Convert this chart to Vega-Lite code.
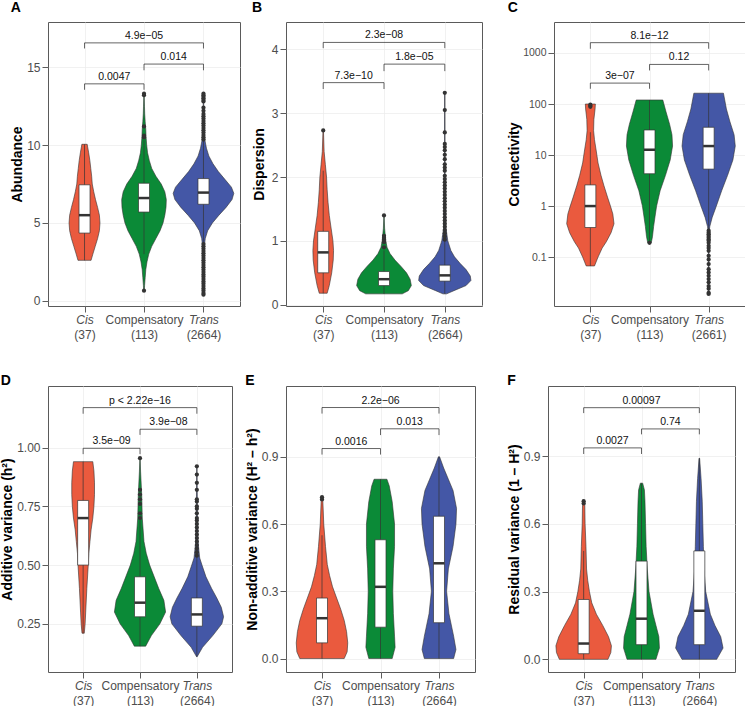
{
"$schema": "https://vega.github.io/schema/vega-lite/v6.json",
"padding": {"left": 0, "top": 0, "right": 0, "bottom": 0},
"background": "white",
"datasets": {
"vio": [
{"p":"A","g":1,"v":2.6,"w":0.11},{"p":"A","g":1,"v":3.0,"w":0.14},{"p":"A","g":1,"v":3.5,"w":0.18},{"p":"A","g":1,"v":4.0,"w":0.22},{"p":"A","g":1,"v":4.5,"w":0.25},{"p":"A","g":1,"v":5.0,"w":0.26},{"p":"A","g":1,"v":5.5,"w":0.25},{"p":"A","g":1,"v":6.0,"w":0.22},{"p":"A","g":1,"v":6.5,"w":0.185},{"p":"A","g":1,"v":7.0,"w":0.155},{"p":"A","g":1,"v":7.5,"w":0.13},{"p":"A","g":1,"v":8.0,"w":0.12},{"p":"A","g":1,"v":8.5,"w":0.105},{"p":"A","g":1,"v":9.0,"w":0.09},{"p":"A","g":1,"v":9.5,"w":0.07},{"p":"A","g":1,"v":10.05,"w":0.045},
{"p":"A","g":2,"v":0.6,"w":0.005},{"p":"A","g":2,"v":1.0,"w":0.01},{"p":"A","g":2,"v":1.5,"w":0.02},{"p":"A","g":2,"v":2.0,"w":0.03},{"p":"A","g":2,"v":2.5,"w":0.05},{"p":"A","g":2,"v":3.0,"w":0.08},{"p":"A","g":2,"v":3.5,"w":0.13},{"p":"A","g":2,"v":4.0,"w":0.2},{"p":"A","g":2,"v":4.5,"w":0.27},{"p":"A","g":2,"v":5.0,"w":0.32},{"p":"A","g":2,"v":5.5,"w":0.35},{"p":"A","g":2,"v":6.0,"w":0.37},{"p":"A","g":2,"v":6.5,"w":0.375},{"p":"A","g":2,"v":7.0,"w":0.35},{"p":"A","g":2,"v":7.5,"w":0.29},{"p":"A","g":2,"v":8.0,"w":0.2},{"p":"A","g":2,"v":8.5,"w":0.13},{"p":"A","g":2,"v":9.0,"w":0.09},{"p":"A","g":2,"v":9.5,"w":0.06},{"p":"A","g":2,"v":10.0,"w":0.045},{"p":"A","g":2,"v":10.5,"w":0.035},{"p":"A","g":2,"v":11.0,"w":0.03},{"p":"A","g":2,"v":11.5,"w":0.02},{"p":"A","g":2,"v":12.0,"w":0.012},{"p":"A","g":2,"v":12.5,"w":0.008},{"p":"A","g":2,"v":13.3,"w":0.003},
{"p":"A","g":3,"v":0.4,"w":0.003},{"p":"A","g":3,"v":2.0,"w":0.006},{"p":"A","g":3,"v":3.0,"w":0.01},{"p":"A","g":3,"v":3.5,"w":0.015},{"p":"A","g":3,"v":4.0,"w":0.03},{"p":"A","g":3,"v":4.5,"w":0.07},{"p":"A","g":3,"v":5.0,"w":0.15},{"p":"A","g":3,"v":5.5,"w":0.26},{"p":"A","g":3,"v":6.0,"w":0.38},{"p":"A","g":3,"v":6.5,"w":0.48},{"p":"A","g":3,"v":6.9,"w":0.51},{"p":"A","g":3,"v":7.3,"w":0.47},{"p":"A","g":3,"v":7.8,"w":0.36},{"p":"A","g":3,"v":8.3,"w":0.25},{"p":"A","g":3,"v":8.8,"w":0.16},{"p":"A","g":3,"v":9.3,"w":0.09},{"p":"A","g":3,"v":9.8,"w":0.05},{"p":"A","g":3,"v":10.3,"w":0.025},{"p":"A","g":3,"v":11.0,"w":0.01},{"p":"A","g":3,"v":12.0,"w":0.005},{"p":"A","g":3,"v":13.3,"w":0.003},
{"p":"B","g":1,"v":0.18,"w":0.065},{"p":"B","g":1,"v":0.3,"w":0.1},{"p":"B","g":1,"v":0.5,"w":0.14},{"p":"B","g":1,"v":0.7,"w":0.165},{"p":"B","g":1,"v":0.85,"w":0.17},{"p":"B","g":1,"v":1.0,"w":0.16},{"p":"B","g":1,"v":1.2,"w":0.13},{"p":"B","g":1,"v":1.4,"w":0.1},{"p":"B","g":1,"v":1.6,"w":0.08},{"p":"B","g":1,"v":1.8,"w":0.065},{"p":"B","g":1,"v":2.0,"w":0.055},{"p":"B","g":1,"v":2.2,"w":0.035},{"p":"B","g":1,"v":2.4,"w":0.015},{"p":"B","g":1,"v":2.73,"w":0.004},
{"p":"B","g":2,"v":0.17,"w":0.3},{"p":"B","g":2,"v":0.22,"w":0.4},{"p":"B","g":2,"v":0.3,"w":0.45},{"p":"B","g":2,"v":0.4,"w":0.43},{"p":"B","g":2,"v":0.5,"w":0.37},{"p":"B","g":2,"v":0.6,"w":0.28},{"p":"B","g":2,"v":0.7,"w":0.18},{"p":"B","g":2,"v":0.8,"w":0.1},{"p":"B","g":2,"v":0.9,"w":0.05},{"p":"B","g":2,"v":1.0,"w":0.03},{"p":"B","g":2,"v":1.1,"w":0.02},{"p":"B","g":2,"v":1.2,"w":0.01},{"p":"B","g":2,"v":1.4,"w":0.003},
{"p":"B","g":3,"v":0.17,"w":0.03},{"p":"B","g":3,"v":0.22,"w":0.15},{"p":"B","g":3,"v":0.3,"w":0.35},{"p":"B","g":3,"v":0.38,"w":0.43},{"p":"B","g":3,"v":0.45,"w":0.42},{"p":"B","g":3,"v":0.55,"w":0.35},{"p":"B","g":3,"v":0.65,"w":0.25},{"p":"B","g":3,"v":0.75,"w":0.16},{"p":"B","g":3,"v":0.85,"w":0.1},{"p":"B","g":3,"v":1.0,"w":0.05},{"p":"B","g":3,"v":1.2,"w":0.02},{"p":"B","g":3,"v":1.5,"w":0.01},{"p":"B","g":3,"v":2.0,"w":0.005},{"p":"B","g":3,"v":3.32,"w":0.003},
{"p":"C","g":1,"v":0.067,"w":0.07},{"p":"C","g":1,"v":0.1,"w":0.13},{"p":"C","g":1,"v":0.15,"w":0.2},{"p":"C","g":1,"v":0.2,"w":0.27},{"p":"C","g":1,"v":0.3,"w":0.35},{"p":"C","g":1,"v":0.45,"w":0.4},{"p":"C","g":1,"v":0.7,"w":0.38},{"p":"C","g":1,"v":1.0,"w":0.34},{"p":"C","g":1,"v":1.5,"w":0.29},{"p":"C","g":1,"v":2.5,"w":0.23},{"p":"C","g":1,"v":4,"w":0.18},{"p":"C","g":1,"v":7,"w":0.13},{"p":"C","g":1,"v":12,"w":0.1},{"p":"C","g":1,"v":20,"w":0.07},{"p":"C","g":1,"v":30,"w":0.055},{"p":"C","g":1,"v":50,"w":0.06},{"p":"C","g":1,"v":80,"w":0.08},{"p":"C","g":1,"v":100,"w":0.085},
{"p":"C","g":2,"v":0.19,"w":0.03},{"p":"C","g":2,"v":0.25,"w":0.05},{"p":"C","g":2,"v":0.4,"w":0.07},{"p":"C","g":2,"v":0.7,"w":0.1},{"p":"C","g":2,"v":1.0,"w":0.12},{"p":"C","g":2,"v":2,"w":0.18},{"p":"C","g":2,"v":4,"w":0.27},{"p":"C","g":2,"v":8,"w":0.35},{"p":"C","g":2,"v":15,"w":0.39},{"p":"C","g":2,"v":25,"w":0.38},{"p":"C","g":2,"v":40,"w":0.34},{"p":"C","g":2,"v":70,"w":0.28},{"p":"C","g":2,"v":120,"w":0.225},
{"p":"C","g":3,"v":0.02,"w":0.003},{"p":"C","g":3,"v":0.3,"w":0.005},{"p":"C","g":3,"v":0.4,"w":0.02},{"p":"C","g":3,"v":0.6,"w":0.06},{"p":"C","g":3,"v":1.0,"w":0.13},{"p":"C","g":3,"v":2,"w":0.22},{"p":"C","g":3,"v":4,"w":0.32},{"p":"C","g":3,"v":8,"w":0.41},{"p":"C","g":3,"v":15,"w":0.45},{"p":"C","g":3,"v":25,"w":0.43},{"p":"C","g":3,"v":45,"w":0.36},{"p":"C","g":3,"v":80,"w":0.3},{"p":"C","g":3,"v":163,"w":0.25},
{"p":"D","g":1,"v":0.21,"w":0.02},{"p":"D","g":1,"v":0.25,"w":0.035},{"p":"D","g":1,"v":0.3,"w":0.045},{"p":"D","g":1,"v":0.4,"w":0.065},{"p":"D","g":1,"v":0.5,"w":0.09},{"p":"D","g":1,"v":0.55,"w":0.1},{"p":"D","g":1,"v":0.6,"w":0.12},{"p":"D","g":1,"v":0.65,"w":0.14},{"p":"D","g":1,"v":0.7,"w":0.17},{"p":"D","g":1,"v":0.75,"w":0.19},{"p":"D","g":1,"v":0.8,"w":0.2},{"p":"D","g":1,"v":0.85,"w":0.2},{"p":"D","g":1,"v":0.9,"w":0.19},{"p":"D","g":1,"v":0.94,"w":0.17},
{"p":"D","g":2,"v":0.155,"w":0.1},{"p":"D","g":2,"v":0.2,"w":0.2},{"p":"D","g":2,"v":0.25,"w":0.35},{"p":"D","g":2,"v":0.3,"w":0.45},{"p":"D","g":2,"v":0.35,"w":0.42},{"p":"D","g":2,"v":0.4,"w":0.33},{"p":"D","g":2,"v":0.45,"w":0.25},{"p":"D","g":2,"v":0.5,"w":0.17},{"p":"D","g":2,"v":0.55,"w":0.11},{"p":"D","g":2,"v":0.6,"w":0.07},{"p":"D","g":2,"v":0.7,"w":0.04},{"p":"D","g":2,"v":0.8,"w":0.03},{"p":"D","g":2,"v":0.9,"w":0.01},{"p":"D","g":2,"v":0.955,"w":0.003},
{"p":"D","g":3,"v":0.11,"w":0.005},{"p":"D","g":3,"v":0.15,"w":0.1},{"p":"D","g":3,"v":0.2,"w":0.28},{"p":"D","g":3,"v":0.25,"w":0.44},{"p":"D","g":3,"v":0.28,"w":0.47},{"p":"D","g":3,"v":0.32,"w":0.43},{"p":"D","g":3,"v":0.36,"w":0.35},{"p":"D","g":3,"v":0.4,"w":0.26},{"p":"D","g":3,"v":0.45,"w":0.16},{"p":"D","g":3,"v":0.5,"w":0.09},{"p":"D","g":3,"v":0.53,"w":0.05},{"p":"D","g":3,"v":0.6,"w":0.02},{"p":"D","g":3,"v":0.7,"w":0.01},{"p":"D","g":3,"v":0.92,"w":0.003},
{"p":"E","g":1,"v":0,"w":0.38},{"p":"E","g":1,"v":0.03,"w":0.43},{"p":"E","g":1,"v":0.07,"w":0.44},{"p":"E","g":1,"v":0.12,"w":0.42},{"p":"E","g":1,"v":0.17,"w":0.38},{"p":"E","g":1,"v":0.22,"w":0.32},{"p":"E","g":1,"v":0.27,"w":0.25},{"p":"E","g":1,"v":0.32,"w":0.18},{"p":"E","g":1,"v":0.37,"w":0.13},{"p":"E","g":1,"v":0.42,"w":0.09},{"p":"E","g":1,"v":0.5,"w":0.06},{"p":"E","g":1,"v":0.6,"w":0.03},{"p":"E","g":1,"v":0.7,"w":0.015},{"p":"E","g":1,"v":0.72,"w":0.01},
{"p":"E","g":2,"v":0,"w":0.2},{"p":"E","g":2,"v":0.05,"w":0.25},{"p":"E","g":2,"v":0.1,"w":0.24},{"p":"E","g":2,"v":0.2,"w":0.22},{"p":"E","g":2,"v":0.3,"w":0.21},{"p":"E","g":2,"v":0.4,"w":0.22},{"p":"E","g":2,"v":0.5,"w":0.24},{"p":"E","g":2,"v":0.6,"w":0.24},{"p":"E","g":2,"v":0.7,"w":0.2},{"p":"E","g":2,"v":0.77,"w":0.15},{"p":"E","g":2,"v":0.8,"w":0.11},
{"p":"E","g":3,"v":0,"w":0.25},{"p":"E","g":3,"v":0.04,"w":0.29},{"p":"E","g":3,"v":0.1,"w":0.25},{"p":"E","g":3,"v":0.2,"w":0.17},{"p":"E","g":3,"v":0.3,"w":0.13},{"p":"E","g":3,"v":0.4,"w":0.16},{"p":"E","g":3,"v":0.5,"w":0.24},{"p":"E","g":3,"v":0.6,"w":0.29},{"p":"E","g":3,"v":0.67,"w":0.3},{"p":"E","g":3,"v":0.75,"w":0.24},{"p":"E","g":3,"v":0.8,"w":0.16},{"p":"E","g":3,"v":0.85,"w":0.08},{"p":"E","g":3,"v":0.9,"w":0.01},
{"p":"F","g":1,"v":0,"w":0.42},{"p":"F","g":1,"v":0.03,"w":0.47},{"p":"F","g":1,"v":0.06,"w":0.48},{"p":"F","g":1,"v":0.1,"w":0.43},{"p":"F","g":1,"v":0.15,"w":0.33},{"p":"F","g":1,"v":0.2,"w":0.22},{"p":"F","g":1,"v":0.25,"w":0.14},{"p":"F","g":1,"v":0.3,"w":0.1},{"p":"F","g":1,"v":0.35,"w":0.07},{"p":"F","g":1,"v":0.4,"w":0.05},{"p":"F","g":1,"v":0.5,"w":0.04},{"p":"F","g":1,"v":0.6,"w":0.025},{"p":"F","g":1,"v":0.68,"w":0.02},{"p":"F","g":1,"v":0.7,"w":0.01},
{"p":"F","g":2,"v":0,"w":0.25},{"p":"F","g":2,"v":0.05,"w":0.31},{"p":"F","g":2,"v":0.1,"w":0.3},{"p":"F","g":2,"v":0.15,"w":0.25},{"p":"F","g":2,"v":0.2,"w":0.2},{"p":"F","g":2,"v":0.3,"w":0.13},{"p":"F","g":2,"v":0.4,"w":0.1},{"p":"F","g":2,"v":0.5,"w":0.08},{"p":"F","g":2,"v":0.6,"w":0.07},{"p":"F","g":2,"v":0.7,"w":0.06},{"p":"F","g":2,"v":0.75,"w":0.05},{"p":"F","g":2,"v":0.78,"w":0.02},
{"p":"F","g":3,"v":0,"w":0.3},{"p":"F","g":3,"v":0.05,"w":0.41},{"p":"F","g":3,"v":0.1,"w":0.37},{"p":"F","g":3,"v":0.15,"w":0.27},{"p":"F","g":3,"v":0.2,"w":0.19},{"p":"F","g":3,"v":0.3,"w":0.11},{"p":"F","g":3,"v":0.4,"w":0.08},{"p":"F","g":3,"v":0.5,"w":0.07},{"p":"F","g":3,"v":0.6,"w":0.06},{"p":"F","g":3,"v":0.7,"w":0.05},{"p":"F","g":3,"v":0.8,"w":0.03},{"p":"F","g":3,"v":0.89,"w":0.005}
],
"box": [
{"p":"A","g":1,"lo":2.6,"q1":4.35,"med":5.5,"q3":7.45,"hi":10.05},{"p":"A","g":2,"lo":3.0,"q1":5.7,"med":6.6,"q3":7.55,"hi":10.3},{"p":"A","g":3,"lo":3.7,"q1":6.2,"med":6.95,"q3":7.85,"hi":10.3},
{"p":"B","g":1,"lo":0.18,"q1":0.5,"med":0.82,"q3":1.15,"hi":2.1},{"p":"B","g":2,"lo":0.17,"q1":0.3,"med":0.4,"q3":0.52,"hi":0.85},{"p":"B","g":3,"lo":0.17,"q1":0.37,"med":0.46,"q3":0.62,"hi":1.0},
{"p":"C","g":1,"lo":0.067,"q1":0.38,"med":1.0,"q3":2.6,"hi":28},{"p":"C","g":2,"lo":0.19,"q1":4.3,"med":12.7,"q3":31,"hi":120},{"p":"C","g":3,"lo":0.35,"q1":5.3,"med":15,"q3":35,"hi":163},
{"p":"D","g":1,"lo":0.21,"q1":0.5,"med":0.7,"q3":0.775,"hi":0.94},{"p":"D","g":2,"lo":0.155,"q1":0.28,"med":0.34,"q3":0.45,"hi":0.69},{"p":"D","g":3,"lo":0.11,"q1":0.24,"med":0.29,"q3":0.36,"hi":0.54},
{"p":"E","g":1,"lo":0,"q1":0.07,"med":0.18,"q3":0.27,"hi":0.55},{"p":"E","g":2,"lo":0,"q1":0.14,"med":0.32,"q3":0.53,"hi":0.8},{"p":"E","g":3,"lo":0,"q1":0.16,"med":0.425,"q3":0.635,"hi":0.9},
{"p":"F","g":1,"lo":0,"q1":0.025,"med":0.07,"q3":0.265,"hi":0.48},{"p":"F","g":2,"lo":0,"q1":0.065,"med":0.18,"q3":0.435,"hi":0.78},{"p":"F","g":3,"lo":0,"q1":0.065,"med":0.215,"q3":0.48,"hi":0.89}
],
"out": [
{"p":"A","g":2,"v":0.65},{"p":"A","g":2,"v":10.5},{"p":"A","g":2,"v":10.6},{"p":"A","g":2,"v":11.2},{"p":"A","g":2,"v":13.2},{"p":"A","g":2,"v":13.3},
{"p":"A","g":3,"v":0.4},{"p":"A","g":3,"v":0.5},{"p":"A","g":3,"v":0.65},{"p":"A","g":3,"v":0.8},{"p":"A","g":3,"v":0.95},{"p":"A","g":3,"v":1.1},{"p":"A","g":3,"v":1.25},{"p":"A","g":3,"v":1.4},{"p":"A","g":3,"v":1.55},{"p":"A","g":3,"v":1.7},{"p":"A","g":3,"v":1.85},{"p":"A","g":3,"v":2.0},{"p":"A","g":3,"v":2.15},{"p":"A","g":3,"v":2.3},{"p":"A","g":3,"v":2.45},{"p":"A","g":3,"v":2.6},{"p":"A","g":3,"v":2.75},{"p":"A","g":3,"v":2.9},{"p":"A","g":3,"v":3.05},{"p":"A","g":3,"v":3.2},{"p":"A","g":3,"v":3.35},{"p":"A","g":3,"v":3.5},{"p":"A","g":3,"v":3.65},
{"p":"A","g":3,"v":10.35},{"p":"A","g":3,"v":10.5},{"p":"A","g":3,"v":10.65},{"p":"A","g":3,"v":10.8},{"p":"A","g":3,"v":10.95},{"p":"A","g":3,"v":11.1},{"p":"A","g":3,"v":11.25},{"p":"A","g":3,"v":11.4},{"p":"A","g":3,"v":11.55},{"p":"A","g":3,"v":11.7},{"p":"A","g":3,"v":11.85},{"p":"A","g":3,"v":12.0},{"p":"A","g":3,"v":12.2},{"p":"A","g":3,"v":12.4},{"p":"A","g":3,"v":12.8},{"p":"A","g":3,"v":12.9},{"p":"A","g":3,"v":13.0},{"p":"A","g":3,"v":13.1},{"p":"A","g":3,"v":13.2},{"p":"A","g":3,"v":13.3},
{"p":"B","g":1,"v":2.73},
{"p":"B","g":2,"v":0.9},{"p":"B","g":2,"v":0.98},{"p":"B","g":2,"v":1.02},{"p":"B","g":2,"v":1.05},{"p":"B","g":2,"v":1.08},{"p":"B","g":2,"v":1.4},
{"p":"B","g":3,"v":1.02},{"p":"B","g":3,"v":1.07},{"p":"B","g":3,"v":1.12},{"p":"B","g":3,"v":1.17},{"p":"B","g":3,"v":1.22},{"p":"B","g":3,"v":1.27},{"p":"B","g":3,"v":1.32},{"p":"B","g":3,"v":1.37},{"p":"B","g":3,"v":1.42},{"p":"B","g":3,"v":1.47},{"p":"B","g":3,"v":1.52},{"p":"B","g":3,"v":1.57},{"p":"B","g":3,"v":1.62},{"p":"B","g":3,"v":1.67},{"p":"B","g":3,"v":1.72},{"p":"B","g":3,"v":1.77},{"p":"B","g":3,"v":1.82},{"p":"B","g":3,"v":1.87},{"p":"B","g":3,"v":1.92},{"p":"B","g":3,"v":1.97},{"p":"B","g":3,"v":2.02},{"p":"B","g":3,"v":2.1},{"p":"B","g":3,"v":2.15},{"p":"B","g":3,"v":2.2},{"p":"B","g":3,"v":2.28},{"p":"B","g":3,"v":2.35},{"p":"B","g":3,"v":2.42},{"p":"B","g":3,"v":2.47},{"p":"B","g":3,"v":2.52},{"p":"B","g":3,"v":2.7},{"p":"B","g":3,"v":3.05},{"p":"B","g":3,"v":3.32},
{"p":"C","g":1,"v":88},{"p":"C","g":1,"v":92},{"p":"C","g":1,"v":97},
{"p":"C","g":2,"v":0.19},
{"p":"C","g":3,"v":0.33},{"p":"C","g":3,"v":0.3},{"p":"C","g":3,"v":0.28},{"p":"C","g":3,"v":0.26},{"p":"C","g":3,"v":0.24},{"p":"C","g":3,"v":0.22},{"p":"C","g":3,"v":0.21},{"p":"C","g":3,"v":0.19},{"p":"C","g":3,"v":0.166},{"p":"C","g":3,"v":0.15},{"p":"C","g":3,"v":0.133},{"p":"C","g":3,"v":0.106},{"p":"C","g":3,"v":0.09},{"p":"C","g":3,"v":0.073},{"p":"C","g":3,"v":0.058},{"p":"C","g":3,"v":0.05},{"p":"C","g":3,"v":0.043},{"p":"C","g":3,"v":0.037},{"p":"C","g":3,"v":0.032},{"p":"C","g":3,"v":0.027},{"p":"C","g":3,"v":0.024},{"p":"C","g":3,"v":0.02},{"p":"C","g":3,"v":0.019},
{"p":"D","g":2,"v":0.7},{"p":"D","g":2,"v":0.72},{"p":"D","g":2,"v":0.76},{"p":"D","g":2,"v":0.78},{"p":"D","g":2,"v":0.8},{"p":"D","g":2,"v":0.82},{"p":"D","g":2,"v":0.955},
{"p":"D","g":3,"v":0.54},{"p":"D","g":3,"v":0.555},{"p":"D","g":3,"v":0.57},{"p":"D","g":3,"v":0.585},{"p":"D","g":3,"v":0.6},{"p":"D","g":3,"v":0.615},{"p":"D","g":3,"v":0.63},{"p":"D","g":3,"v":0.645},{"p":"D","g":3,"v":0.66},{"p":"D","g":3,"v":0.675},{"p":"D","g":3,"v":0.69},{"p":"D","g":3,"v":0.7},{"p":"D","g":3,"v":0.72},{"p":"D","g":3,"v":0.74},{"p":"D","g":3,"v":0.75},{"p":"D","g":3,"v":0.77},{"p":"D","g":3,"v":0.78},{"p":"D","g":3,"v":0.82},{"p":"D","g":3,"v":0.85},{"p":"D","g":3,"v":0.885},{"p":"D","g":3,"v":0.92},
{"p":"E","g":1,"v":0.71},{"p":"E","g":1,"v":0.72},
{"p":"F","g":1,"v":0.69},{"p":"F","g":1,"v":0.7}
],
"brk": [
{"p":"A","x1":1,"x2":2,"yb":13.93,"yt":13.55,"lab":"0.0047"},{"p":"A","x1":2,"x2":3,"yb":15.2,"yt":14.8,"lab":"0.014"},{"p":"A","x1":1,"x2":3,"yb":16.56,"yt":16.2,"lab":"4.9e−05"},
{"p":"B","x1":1,"x2":2,"yb":3.48,"yt":3.38,"lab":"7.3e−10"},{"p":"B","x1":2,"x2":3,"yb":3.77,"yt":3.66,"lab":"1.8e−05"},{"p":"B","x1":1,"x2":3,"yb":4.11,"yt":4.02,"lab":"2.3e−08"},
{"p":"C","x1":1,"x2":2,"yb":257,"yt":199,"lab":"3e−07"},{"p":"C","x1":2,"x2":3,"yb":597,"yt":455,"lab":"0.12"},{"p":"C","x1":1,"x2":3,"yb":1594,"yt":1211,"lab":"8.1e−12"},
{"p":"D","x1":1,"x2":2,"yb":0.997,"yt":0.972,"lab":"3.5e−09"},{"p":"D","x1":2,"x2":3,"yb":1.078,"yt":1.054,"lab":"3.9e−08"},{"p":"D","x1":1,"x2":3,"yb":1.17,"yt":1.144,"lab":"p < 2.22e−16"},
{"p":"E","x1":1,"x2":2,"yb":0.937,"yt":0.91,"lab":"0.0016"},{"p":"E","x1":2,"x2":3,"yb":1.025,"yt":0.997,"lab":"0.013"},{"p":"E","x1":1,"x2":3,"yb":1.12,"yt":1.093,"lab":"2.2e−06"},
{"p":"F","x1":1,"x2":2,"yb":0.936,"yt":0.909,"lab":"0.0027"},{"p":"F","x1":2,"x2":3,"yb":1.02,"yt":0.996,"lab":"0.74"},{"p":"F","x1":1,"x2":3,"yb":1.114,"yt":1.09,"lab":"0.00097"}
]
},
"concat": [
{"columns": 2, "align": "none", "spacing": 10, "concat": [
{"title": {"text": "A", "offset": 7}, "width": 192, "height": 284, "resolve": {"axis": {"x": "independent"}}, "layer": [
{"data": {"name": "vio"}, "transform": [{"filter": "datum.p=='A'"}, {"calculate": "datum.g-datum.w", "as": "lo"}, {"calculate": "datum.g+datum.w", "as": "hi"}],
 "mark": {"type": "area", "orient": "horizontal", "stroke": "#333333", "strokeWidth": 0.6, "opacity": 1},
 "encoding": {"y": {"field": "v", "type": "quantitative", "scale": {"domain": [-0.33, 17.9], "nice": false, "zero": false}, "axis": {"title": "Abundance", "values": [0, 5, 10, 15], "format": "d"}},
  "x": {"field": "lo", "type": "quantitative", "stack": null, "scale": {"domain": [0.47, 3.53], "nice": false, "zero": false}, "axis": {"orient": "bottom", "title": null, "values": [1, 2, 3], "labelExpr": "datum.value==1?'Cis':datum.value==2?'Compensatory':'Trans'", "labelFontStyle": {"condition": {"test": "datum.value==2", "value": "normal"}, "value": "italic"}}},
  "x2": {"field": "hi"},
  "color": {"field": "g", "type": "nominal", "scale": {"domain": [1, 2, 3], "range": ["#EA5A3E", "#0B8A37", "#4457A6"]}, "legend": null}}},
{"data": {"name": "box"}, "transform": [{"filter": "datum.p=='A'"}], "mark": {"type": "rule", "color": "#333333", "strokeWidth": 0.7}, "encoding": {"x": {"field": "g", "type": "quantitative", "axis": {"orient": "bottom", "title": null, "values": [1, 2, 3], "labelExpr": "datum.value==1?'(37)':datum.value==2?'(113)':'(2664)'", "ticks": false, "grid": false, "labelPadding": 23}}, "y": {"field": "lo", "type": "quantitative"}, "y2": {"field": "hi"}}},
{"data": {"name": "box"}, "transform": [{"filter": "datum.p=='A'"}], "mark": {"type": "bar", "size": 11, "fill": "white", "stroke": "#333333", "strokeWidth": 0.7}, "encoding": {"x": {"field": "g", "type": "quantitative", "axis": null}, "y": {"field": "q1", "type": "quantitative"}, "y2": {"field": "q3"}}},
{"data": {"name": "box"}, "transform": [{"filter": "datum.p=='A'"}], "mark": {"type": "tick", "orient": "horizontal", "size": 11, "thickness": 2.5, "color": "#333333", "opacity": 1}, "encoding": {"x": {"field": "g", "type": "quantitative", "axis": null}, "y": {"field": "med", "type": "quantitative"}}},
{"data": {"name": "out"}, "transform": [{"filter": "datum.p=='A'"}], "mark": {"type": "circle", "size": 18, "color": "#333333", "opacity": 1}, "encoding": {"x": {"field": "g", "type": "quantitative", "axis": null}, "y": {"field": "v", "type": "quantitative"}}},
{"data": {"name": "brk"}, "transform": [{"filter": "datum.p=='A'"}], "mark": {"type": "rule", "color": "#222222", "strokeWidth": 0.7}, "encoding": {"x": {"field": "x1", "type": "quantitative", "axis": null}, "x2": {"field": "x2"}, "y": {"field": "yb", "type": "quantitative"}}},
{"data": {"name": "brk"}, "transform": [{"filter": "datum.p=='A'"}], "mark": {"type": "rule", "color": "#222222", "strokeWidth": 0.7}, "encoding": {"x": {"field": "x1", "type": "quantitative", "axis": null}, "y": {"field": "yt", "type": "quantitative"}, "y2": {"field": "yb"}}},
{"data": {"name": "brk"}, "transform": [{"filter": "datum.p=='A'"}], "mark": {"type": "rule", "color": "#222222", "strokeWidth": 0.7}, "encoding": {"x": {"field": "x2", "type": "quantitative", "axis": null}, "y": {"field": "yt", "type": "quantitative"}, "y2": {"field": "yb"}}},
{"data": {"name": "brk"}, "transform": [{"filter": "datum.p=='A'"}, {"calculate": "(datum.x1+datum.x2)/2", "as": "xm"}], "mark": {"type": "text", "baseline": "bottom", "dy": -2, "fontSize": 10.5, "color": "#111111"}, "encoding": {"x": {"field": "xm", "type": "quantitative", "axis": null}, "y": {"field": "yb", "type": "quantitative"}, "text": {"field": "lab"}}}
]},
{"columns": 2, "align": "none", "spacing": 24, "concat": [
{"title": {"text": "B", "offset": 7}, "width": 196, "height": 284, "resolve": {"axis": {"x": "independent"}}, "layer": [
{"data": {"name": "vio"}, "transform": [{"filter": "datum.p=='B'"}, {"calculate": "datum.g-datum.w", "as": "lo"}, {"calculate": "datum.g+datum.w", "as": "hi"}],
 "mark": {"type": "area", "orient": "horizontal", "stroke": "#333333", "strokeWidth": 0.6, "opacity": 1},
 "encoding": {"y": {"field": "v", "type": "quantitative", "scale": {"domain": [-0.02, 4.43], "nice": false, "zero": false}, "axis": {"title": "Dispersion", "values": [0, 1, 2, 3, 4], "format": "d", "minExtent": 18}},
  "x": {"field": "lo", "type": "quantitative", "stack": null, "scale": {"domain": [0.47, 3.53], "nice": false, "zero": false}, "axis": {"orient": "bottom", "title": null, "values": [1, 2, 3], "labelExpr": "datum.value==1?'Cis':datum.value==2?'Compensatory':'Trans'", "labelFontStyle": {"condition": {"test": "datum.value==2", "value": "normal"}, "value": "italic"}}},
  "x2": {"field": "hi"},
  "color": {"field": "g", "type": "nominal", "scale": {"domain": [1, 2, 3], "range": ["#EA5A3E", "#0B8A37", "#4457A6"]}, "legend": null}}},
{"data": {"name": "box"}, "transform": [{"filter": "datum.p=='B'"}], "mark": {"type": "rule", "color": "#333333", "strokeWidth": 0.7}, "encoding": {"x": {"field": "g", "type": "quantitative", "axis": {"orient": "bottom", "title": null, "values": [1, 2, 3], "labelExpr": "datum.value==1?'(37)':datum.value==2?'(113)':'(2664)'", "ticks": false, "grid": false, "labelPadding": 23}}, "y": {"field": "lo", "type": "quantitative"}, "y2": {"field": "hi"}}},
{"data": {"name": "box"}, "transform": [{"filter": "datum.p=='B'"}], "mark": {"type": "bar", "size": 11, "fill": "white", "stroke": "#333333", "strokeWidth": 0.7}, "encoding": {"x": {"field": "g", "type": "quantitative", "axis": null}, "y": {"field": "q1", "type": "quantitative"}, "y2": {"field": "q3"}}},
{"data": {"name": "box"}, "transform": [{"filter": "datum.p=='B'"}], "mark": {"type": "tick", "orient": "horizontal", "size": 11, "thickness": 2.5, "color": "#333333", "opacity": 1}, "encoding": {"x": {"field": "g", "type": "quantitative", "axis": null}, "y": {"field": "med", "type": "quantitative"}}},
{"data": {"name": "out"}, "transform": [{"filter": "datum.p=='B'"}], "mark": {"type": "circle", "size": 18, "color": "#333333", "opacity": 1}, "encoding": {"x": {"field": "g", "type": "quantitative", "axis": null}, "y": {"field": "v", "type": "quantitative"}}},
{"data": {"name": "brk"}, "transform": [{"filter": "datum.p=='B'"}], "mark": {"type": "rule", "color": "#222222", "strokeWidth": 0.7}, "encoding": {"x": {"field": "x1", "type": "quantitative", "axis": null}, "x2": {"field": "x2"}, "y": {"field": "yb", "type": "quantitative"}}},
{"data": {"name": "brk"}, "transform": [{"filter": "datum.p=='B'"}], "mark": {"type": "rule", "color": "#222222", "strokeWidth": 0.7}, "encoding": {"x": {"field": "x1", "type": "quantitative", "axis": null}, "y": {"field": "yt", "type": "quantitative"}, "y2": {"field": "yb"}}},
{"data": {"name": "brk"}, "transform": [{"filter": "datum.p=='B'"}], "mark": {"type": "rule", "color": "#222222", "strokeWidth": 0.7}, "encoding": {"x": {"field": "x2", "type": "quantitative", "axis": null}, "y": {"field": "yt", "type": "quantitative"}, "y2": {"field": "yb"}}},
{"data": {"name": "brk"}, "transform": [{"filter": "datum.p=='B'"}, {"calculate": "(datum.x1+datum.x2)/2", "as": "xm"}], "mark": {"type": "text", "baseline": "bottom", "dy": -2, "fontSize": 10.5, "color": "#111111"}, "encoding": {"x": {"field": "xm", "type": "quantitative", "axis": null}, "y": {"field": "yb", "type": "quantitative"}, "text": {"field": "lab"}}}
]},
{"title": {"text": "C", "offset": 7}, "width": 191, "height": 284, "resolve": {"axis": {"x": "independent"}}, "layer": [
{"data": {"name": "vio"}, "transform": [{"filter": "datum.p=='C'"}, {"calculate": "datum.g-datum.w", "as": "lo"}, {"calculate": "datum.g+datum.w", "as": "hi"}],
 "mark": {"type": "area", "orient": "horizontal", "stroke": "#333333", "strokeWidth": 0.6, "opacity": 1},
 "encoding": {"y": {"field": "v", "type": "quantitative", "scale": {"type": "log", "domain": [0.011, 4050], "nice": false, "zero": false}, "axis": {"title": "Connectivity", "values": [0.1, 1, 10, 100, 1000], "format": "~g", "labelFontSize": 10.5, "titlePadding": 1}},
  "x": {"field": "lo", "type": "quantitative", "stack": null, "scale": {"domain": [0.47, 3.53], "nice": false, "zero": false}, "axis": {"orient": "bottom", "title": null, "values": [1, 2, 3], "labelExpr": "datum.value==1?'Cis':datum.value==2?'Compensatory':'Trans'", "labelFontStyle": {"condition": {"test": "datum.value==2", "value": "normal"}, "value": "italic"}}},
  "x2": {"field": "hi"},
  "color": {"field": "g", "type": "nominal", "scale": {"domain": [1, 2, 3], "range": ["#EA5A3E", "#0B8A37", "#4457A6"]}, "legend": null}}},
{"data": {"name": "box"}, "transform": [{"filter": "datum.p=='C'"}], "mark": {"type": "rule", "color": "#333333", "strokeWidth": 0.7}, "encoding": {"x": {"field": "g", "type": "quantitative", "axis": {"orient": "bottom", "title": null, "values": [1, 2, 3], "labelExpr": "datum.value==1?'(37)':datum.value==2?'(113)':'(2661)'", "ticks": false, "grid": false, "labelPadding": 23}}, "y": {"field": "lo", "type": "quantitative"}, "y2": {"field": "hi"}}},
{"data": {"name": "box"}, "transform": [{"filter": "datum.p=='C'"}], "mark": {"type": "bar", "size": 11, "fill": "white", "stroke": "#333333", "strokeWidth": 0.7}, "encoding": {"x": {"field": "g", "type": "quantitative", "axis": null}, "y": {"field": "q1", "type": "quantitative"}, "y2": {"field": "q3"}}},
{"data": {"name": "box"}, "transform": [{"filter": "datum.p=='C'"}], "mark": {"type": "tick", "orient": "horizontal", "size": 11, "thickness": 2.5, "color": "#333333", "opacity": 1}, "encoding": {"x": {"field": "g", "type": "quantitative", "axis": null}, "y": {"field": "med", "type": "quantitative"}}},
{"data": {"name": "out"}, "transform": [{"filter": "datum.p=='C'"}], "mark": {"type": "circle", "size": 18, "color": "#333333", "opacity": 1}, "encoding": {"x": {"field": "g", "type": "quantitative", "axis": null}, "y": {"field": "v", "type": "quantitative"}}},
{"data": {"name": "brk"}, "transform": [{"filter": "datum.p=='C'"}], "mark": {"type": "rule", "color": "#222222", "strokeWidth": 0.7}, "encoding": {"x": {"field": "x1", "type": "quantitative", "axis": null}, "x2": {"field": "x2"}, "y": {"field": "yb", "type": "quantitative"}}},
{"data": {"name": "brk"}, "transform": [{"filter": "datum.p=='C'"}], "mark": {"type": "rule", "color": "#222222", "strokeWidth": 0.7}, "encoding": {"x": {"field": "x1", "type": "quantitative", "axis": null}, "y": {"field": "yt", "type": "quantitative"}, "y2": {"field": "yb"}}},
{"data": {"name": "brk"}, "transform": [{"filter": "datum.p=='C'"}], "mark": {"type": "rule", "color": "#222222", "strokeWidth": 0.7}, "encoding": {"x": {"field": "x2", "type": "quantitative", "axis": null}, "y": {"field": "yt", "type": "quantitative"}, "y2": {"field": "yb"}}},
{"data": {"name": "brk"}, "transform": [{"filter": "datum.p=='C'"}, {"calculate": "(datum.x1+datum.x2)/2", "as": "xm"}], "mark": {"type": "text", "baseline": "bottom", "dy": -2, "fontSize": 10.5, "color": "#111111"}, "encoding": {"x": {"field": "xm", "type": "quantitative", "axis": null}, "y": {"field": "yb", "type": "quantitative"}, "text": {"field": "lab"}}}
]}
]}
]},
{"columns": 2, "align": "none", "spacing": 11, "concat": [
{"title": {"text": "D", "offset": -2}, "width": 184, "height": 286, "resolve": {"axis": {"x": "independent"}}, "layer": [
{"data": {"name": "vio"}, "transform": [{"filter": "datum.p=='D'"}, {"calculate": "datum.g-datum.w", "as": "lo"}, {"calculate": "datum.g+datum.w", "as": "hi"}],
 "mark": {"type": "area", "orient": "horizontal", "stroke": "#333333", "strokeWidth": 0.6, "opacity": 1},
 "encoding": {"y": {"field": "v", "type": "quantitative", "scale": {"domain": [0.045, 1.262], "nice": false, "zero": false}, "axis": {"title": "Additive variance (h²)", "values": [0.25, 0.5, 0.75, 1.0], "format": ".2f"}},
  "x": {"field": "lo", "type": "quantitative", "stack": null, "scale": {"domain": [0.47, 3.53], "nice": false, "zero": false}, "axis": {"orient": "bottom", "title": null, "values": [1, 2, 3], "labelExpr": "datum.value==1?'Cis':datum.value==2?'Compensatory':'Trans'", "labelFontStyle": {"condition": {"test": "datum.value==2", "value": "normal"}, "value": "italic"}}},
  "x2": {"field": "hi"},
  "color": {"field": "g", "type": "nominal", "scale": {"domain": [1, 2, 3], "range": ["#EA5A3E", "#0B8A37", "#4457A6"]}, "legend": null}}},
{"data": {"name": "box"}, "transform": [{"filter": "datum.p=='D'"}], "mark": {"type": "rule", "color": "#333333", "strokeWidth": 0.7}, "encoding": {"x": {"field": "g", "type": "quantitative", "axis": {"orient": "bottom", "title": null, "values": [1, 2, 3], "labelExpr": "datum.value==1?'(37)':datum.value==2?'(113)':'(2664)'", "ticks": false, "grid": false, "labelPadding": 23}}, "y": {"field": "lo", "type": "quantitative"}, "y2": {"field": "hi"}}},
{"data": {"name": "box"}, "transform": [{"filter": "datum.p=='D'"}], "mark": {"type": "bar", "size": 11, "fill": "white", "stroke": "#333333", "strokeWidth": 0.7}, "encoding": {"x": {"field": "g", "type": "quantitative", "axis": null}, "y": {"field": "q1", "type": "quantitative"}, "y2": {"field": "q3"}}},
{"data": {"name": "box"}, "transform": [{"filter": "datum.p=='D'"}], "mark": {"type": "tick", "orient": "horizontal", "size": 11, "thickness": 2.5, "color": "#333333", "opacity": 1}, "encoding": {"x": {"field": "g", "type": "quantitative", "axis": null}, "y": {"field": "med", "type": "quantitative"}}},
{"data": {"name": "out"}, "transform": [{"filter": "datum.p=='D'"}], "mark": {"type": "circle", "size": 18, "color": "#333333", "opacity": 1}, "encoding": {"x": {"field": "g", "type": "quantitative", "axis": null}, "y": {"field": "v", "type": "quantitative"}}},
{"data": {"name": "brk"}, "transform": [{"filter": "datum.p=='D'"}], "mark": {"type": "rule", "color": "#222222", "strokeWidth": 0.7}, "encoding": {"x": {"field": "x1", "type": "quantitative", "axis": null}, "x2": {"field": "x2"}, "y": {"field": "yb", "type": "quantitative"}}},
{"data": {"name": "brk"}, "transform": [{"filter": "datum.p=='D'"}], "mark": {"type": "rule", "color": "#222222", "strokeWidth": 0.7}, "encoding": {"x": {"field": "x1", "type": "quantitative", "axis": null}, "y": {"field": "yt", "type": "quantitative"}, "y2": {"field": "yb"}}},
{"data": {"name": "brk"}, "transform": [{"filter": "datum.p=='D'"}], "mark": {"type": "rule", "color": "#222222", "strokeWidth": 0.7}, "encoding": {"x": {"field": "x2", "type": "quantitative", "axis": null}, "y": {"field": "yt", "type": "quantitative"}, "y2": {"field": "yb"}}},
{"data": {"name": "brk"}, "transform": [{"filter": "datum.p=='D'"}, {"calculate": "(datum.x1+datum.x2)/2", "as": "xm"}], "mark": {"type": "text", "baseline": "bottom", "dy": -2, "fontSize": 10.5, "color": "#111111"}, "encoding": {"x": {"field": "xm", "type": "quantitative", "axis": null}, "y": {"field": "yb", "type": "quantitative"}, "text": {"field": "lab"}}}
]},
{"columns": 2, "align": "none", "spacing": 30, "concat": [
{"title": {"text": "E", "offset": -2}, "width": 189, "height": 286, "resolve": {"axis": {"x": "independent"}}, "layer": [
{"data": {"name": "vio"}, "transform": [{"filter": "datum.p=='E'"}, {"calculate": "datum.g-datum.w", "as": "lo"}, {"calculate": "datum.g+datum.w", "as": "hi"}],
 "mark": {"type": "area", "orient": "horizontal", "stroke": "#333333", "strokeWidth": 0.6, "opacity": 1},
 "encoding": {"y": {"field": "v", "type": "quantitative", "scale": {"domain": [-0.06, 1.216], "nice": false, "zero": false}, "axis": {"title": "Non-additive variance (H² – h²)", "values": [0, 0.3, 0.6, 0.9], "format": ".1f"}},
  "x": {"field": "lo", "type": "quantitative", "stack": null, "scale": {"domain": [0.47, 3.53], "nice": false, "zero": false}, "axis": {"orient": "bottom", "title": null, "values": [1, 2, 3], "labelExpr": "datum.value==1?'Cis':datum.value==2?'Compensatory':'Trans'", "labelFontStyle": {"condition": {"test": "datum.value==2", "value": "normal"}, "value": "italic"}}},
  "x2": {"field": "hi"},
  "color": {"field": "g", "type": "nominal", "scale": {"domain": [1, 2, 3], "range": ["#EA5A3E", "#0B8A37", "#4457A6"]}, "legend": null}}},
{"data": {"name": "box"}, "transform": [{"filter": "datum.p=='E'"}], "mark": {"type": "rule", "color": "#333333", "strokeWidth": 0.7}, "encoding": {"x": {"field": "g", "type": "quantitative", "axis": {"orient": "bottom", "title": null, "values": [1, 2, 3], "labelExpr": "datum.value==1?'(37)':datum.value==2?'(113)':'(2664)'", "ticks": false, "grid": false, "labelPadding": 23}}, "y": {"field": "lo", "type": "quantitative"}, "y2": {"field": "hi"}}},
{"data": {"name": "box"}, "transform": [{"filter": "datum.p=='E'"}], "mark": {"type": "bar", "size": 11, "fill": "white", "stroke": "#333333", "strokeWidth": 0.7}, "encoding": {"x": {"field": "g", "type": "quantitative", "axis": null}, "y": {"field": "q1", "type": "quantitative"}, "y2": {"field": "q3"}}},
{"data": {"name": "box"}, "transform": [{"filter": "datum.p=='E'"}], "mark": {"type": "tick", "orient": "horizontal", "size": 11, "thickness": 2.5, "color": "#333333", "opacity": 1}, "encoding": {"x": {"field": "g", "type": "quantitative", "axis": null}, "y": {"field": "med", "type": "quantitative"}}},
{"data": {"name": "out"}, "transform": [{"filter": "datum.p=='E'"}], "mark": {"type": "circle", "size": 18, "color": "#333333", "opacity": 1}, "encoding": {"x": {"field": "g", "type": "quantitative", "axis": null}, "y": {"field": "v", "type": "quantitative"}}},
{"data": {"name": "brk"}, "transform": [{"filter": "datum.p=='E'"}], "mark": {"type": "rule", "color": "#222222", "strokeWidth": 0.7}, "encoding": {"x": {"field": "x1", "type": "quantitative", "axis": null}, "x2": {"field": "x2"}, "y": {"field": "yb", "type": "quantitative"}}},
{"data": {"name": "brk"}, "transform": [{"filter": "datum.p=='E'"}], "mark": {"type": "rule", "color": "#222222", "strokeWidth": 0.7}, "encoding": {"x": {"field": "x1", "type": "quantitative", "axis": null}, "y": {"field": "yt", "type": "quantitative"}, "y2": {"field": "yb"}}},
{"data": {"name": "brk"}, "transform": [{"filter": "datum.p=='E'"}], "mark": {"type": "rule", "color": "#222222", "strokeWidth": 0.7}, "encoding": {"x": {"field": "x2", "type": "quantitative", "axis": null}, "y": {"field": "yt", "type": "quantitative"}, "y2": {"field": "yb"}}},
{"data": {"name": "brk"}, "transform": [{"filter": "datum.p=='E'"}, {"calculate": "(datum.x1+datum.x2)/2", "as": "xm"}], "mark": {"type": "text", "baseline": "bottom", "dy": -2, "fontSize": 10.5, "color": "#111111"}, "encoding": {"x": {"field": "xm", "type": "quantitative", "axis": null}, "y": {"field": "yb", "type": "quantitative"}, "text": {"field": "lab"}}}
]},
{"title": {"text": "F", "offset": -2}, "width": 187, "height": 286, "resolve": {"axis": {"x": "independent"}}, "layer": [
{"data": {"name": "vio"}, "transform": [{"filter": "datum.p=='F'"}, {"calculate": "datum.g-datum.w", "as": "lo"}, {"calculate": "datum.g+datum.w", "as": "hi"}],
 "mark": {"type": "area", "orient": "horizontal", "stroke": "#333333", "strokeWidth": 0.6, "opacity": 1},
 "encoding": {"y": {"field": "v", "type": "quantitative", "scale": {"domain": [-0.056, 1.21], "nice": false, "zero": false}, "axis": {"title": "Residual variance (1 – H²)", "values": [0, 0.3, 0.6, 0.9], "format": ".1f"}},
  "x": {"field": "lo", "type": "quantitative", "stack": null, "scale": {"domain": [0.47, 3.53], "nice": false, "zero": false}, "axis": {"orient": "bottom", "title": null, "values": [1, 2, 3], "labelExpr": "datum.value==1?'Cis':datum.value==2?'Compensatory':'Trans'", "labelFontStyle": {"condition": {"test": "datum.value==2", "value": "normal"}, "value": "italic"}}},
  "x2": {"field": "hi"},
  "color": {"field": "g", "type": "nominal", "scale": {"domain": [1, 2, 3], "range": ["#EA5A3E", "#0B8A37", "#4457A6"]}, "legend": null}}},
{"data": {"name": "box"}, "transform": [{"filter": "datum.p=='F'"}], "mark": {"type": "rule", "color": "#333333", "strokeWidth": 0.7}, "encoding": {"x": {"field": "g", "type": "quantitative", "axis": {"orient": "bottom", "title": null, "values": [1, 2, 3], "labelExpr": "datum.value==1?'(37)':datum.value==2?'(113)':'(2664)'", "ticks": false, "grid": false, "labelPadding": 23}}, "y": {"field": "lo", "type": "quantitative"}, "y2": {"field": "hi"}}},
{"data": {"name": "box"}, "transform": [{"filter": "datum.p=='F'"}], "mark": {"type": "bar", "size": 11, "fill": "white", "stroke": "#333333", "strokeWidth": 0.7}, "encoding": {"x": {"field": "g", "type": "quantitative", "axis": null}, "y": {"field": "q1", "type": "quantitative"}, "y2": {"field": "q3"}}},
{"data": {"name": "box"}, "transform": [{"filter": "datum.p=='F'"}], "mark": {"type": "tick", "orient": "horizontal", "size": 11, "thickness": 2.5, "color": "#333333", "opacity": 1}, "encoding": {"x": {"field": "g", "type": "quantitative", "axis": null}, "y": {"field": "med", "type": "quantitative"}}},
{"data": {"name": "out"}, "transform": [{"filter": "datum.p=='F'"}], "mark": {"type": "circle", "size": 18, "color": "#333333", "opacity": 1}, "encoding": {"x": {"field": "g", "type": "quantitative", "axis": null}, "y": {"field": "v", "type": "quantitative"}}},
{"data": {"name": "brk"}, "transform": [{"filter": "datum.p=='F'"}], "mark": {"type": "rule", "color": "#222222", "strokeWidth": 0.7}, "encoding": {"x": {"field": "x1", "type": "quantitative", "axis": null}, "x2": {"field": "x2"}, "y": {"field": "yb", "type": "quantitative"}}},
{"data": {"name": "brk"}, "transform": [{"filter": "datum.p=='F'"}], "mark": {"type": "rule", "color": "#222222", "strokeWidth": 0.7}, "encoding": {"x": {"field": "x1", "type": "quantitative", "axis": null}, "y": {"field": "yt", "type": "quantitative"}, "y2": {"field": "yb"}}},
{"data": {"name": "brk"}, "transform": [{"filter": "datum.p=='F'"}], "mark": {"type": "rule", "color": "#222222", "strokeWidth": 0.7}, "encoding": {"x": {"field": "x2", "type": "quantitative", "axis": null}, "y": {"field": "yt", "type": "quantitative"}, "y2": {"field": "yb"}}},
{"data": {"name": "brk"}, "transform": [{"filter": "datum.p=='F'"}, {"calculate": "(datum.x1+datum.x2)/2", "as": "xm"}], "mark": {"type": "text", "baseline": "bottom", "dy": -2, "fontSize": 10.5, "color": "#111111"}, "encoding": {"x": {"field": "xm", "type": "quantitative", "axis": null}, "y": {"field": "yb", "type": "quantitative"}, "text": {"field": "lab"}}}
]}
]}
]}
],
"columns": 1,
"align": "none",
"spacing": 32,
"config": {
 "font": "Liberation Sans",
 "view": {"stroke": "#5a5a5a", "strokeWidth": 1},
 "axis": {"domain": false, "grid": true, "gridColor": "#EBEBEB", "gridWidth": 0.7, "tickColor": "#333333", "tickSize": 6, "tickWidth": 0.8, "labelColor": "#4D4D4D", "labelFontSize": 12, "labelFont": "Liberation Sans", "titleFont": "Liberation Sans", "titleFontSize": 14, "titleFontWeight": "bold", "titleColor": "#000000", "labelPadding": 2},
 "axisY": {"titlePadding": 2},
 "axisX": {"labelPadding": 2, "labelFlush": false, "labelOverlap": false},
 "title": {"anchor": "start", "fontSize": 14, "fontWeight": "bold", "font": "Liberation Sans", "color": "#000000"}
}
}
